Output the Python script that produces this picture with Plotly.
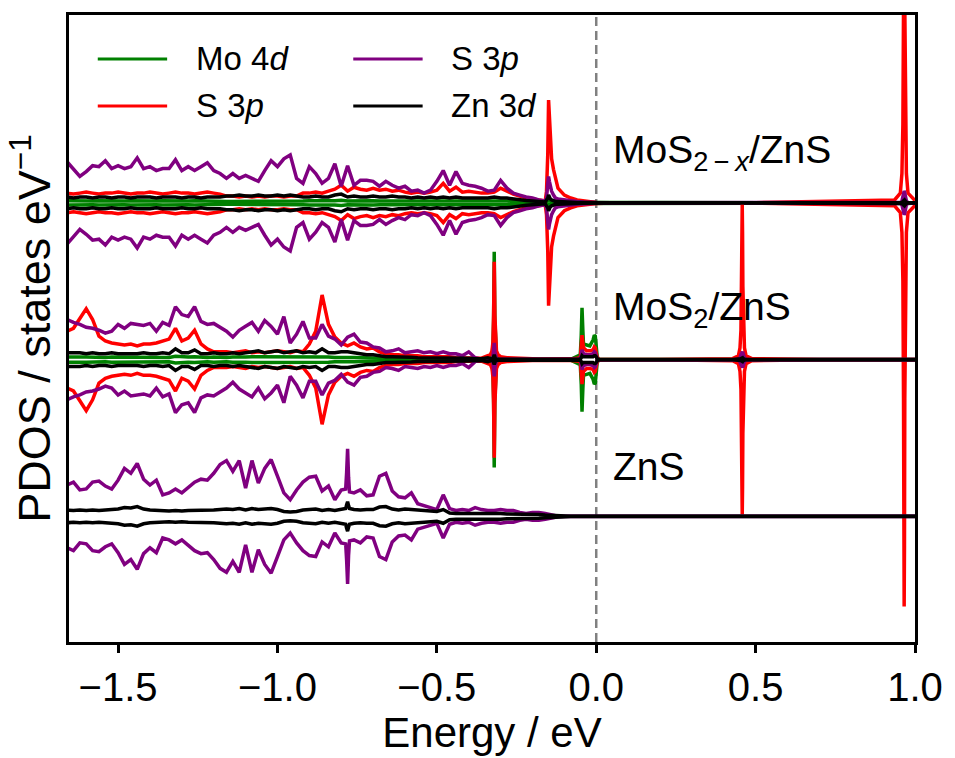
import numpy as np
import plotly.graph_objects as go

# ---------------------------------------------------------------------------
# Energy grid of the valence-band region (eV), shared by all three systems
# ---------------------------------------------------------------------------
E_GRID = np.round(np.arange(-1.66, 0.0001, 0.02), 3)   # 84 points

# ---------------------------------------------------------------------------
# MoS2-x/ZnS  (PDOS, states/eV; spin-up = +, spin-down = -)
# ---------------------------------------------------------------------------
TOP_MO4D = [0.22, 0.19, 0.22, 0.22, 0.19, 0.22, 0.19, 0.22, 0.22, 0.19,
            0.22, 0.19, 0.22, 0.22, 0.19, 0.22, 0.19, 0.22, 0.22, 0.19,
            0.22, 0.19, 0.19, 0.15, 0.15, 0.15, 0.15, 0.15, 0.11, 0.15,
            0.15, 0.11, 0.15, 0.15, 0.15, 0.15, 0.19, 0.19, 0.22, 0.19,
            0.19, 0.22, 0.22, 0.26, 0.19, 0.22, 0.19, 0.19, 0.22, 0.19,
            0.19, 0.22, 0.19, 0.19, 0.22, 0.19, 0.22, 0.22, 0.22, 0.26,
            0.22, 0.26, 0.22, 0.22, 0.22, 0.22, 0.19, 0.22, 0.22, 0.19,
            0.15, 0.11, 0.09, 0.08, 0.06, 0.05, 0.15, 0.06, 0.04, 0.03,
            0.02, 0.015, 0.01, 0.01]
TOP_S3P_MOS2 = [1.0, 0.9, 1.0, 1.1, 1.0, 0.9, 1.0, 1.0, 1.1, 1.0,
                0.9, 1.0, 1.0, 1.1, 1.0, 0.9, 1.0, 1.1, 1.0, 1.0,
                0.9, 1.0, 1.1, 1.0, 0.9, 0.7, 0.7, 0.6, 0.7, 0.6,
                0.7, 0.6, 0.7, 0.7, 0.6, 0.7, 0.7, 1.0, 1.0, 1.1,
                1.0, 1.2, 1.4, 1.8, 1.2, 1.6, 1.4, 1.3, 1.5, 1.3,
                1.4, 1.2, 1.3, 1.1, 1.0, 1.1, 1.0, 1.1, 1.3, 2.0,
                1.2, 1.6, 1.1, 1.2, 1.1, 1.0, 1.0, 1.1, 1.5, 1.2,
                0.9, 0.7, 0.5, 0.4, 0.3, 0.2, 4.5, 1.5, 0.8, 0.5,
                0.3, 0.2, 0.1, 0.05]
TOP_S3P_ZNS = [4.2, 3.5, 2.7, 3.2, 3.8, 3.7, 4.3, 3.5, 3.8, 3.5,
               3.7, 4.6, 3.5, 3.7, 3.3, 3.5, 3.5, 4.4, 3.3, 3.7,
               3.3, 3.7, 4.1, 3.3, 3.0, 2.5, 3.0, 2.5, 2.8, 2.5,
               2.2, 3.3, 4.3, 3.7, 4.5, 4.9, 2.5, 2.0, 3.7, 3.0,
               2.0, 2.5, 4.0, 1.7, 3.8, 1.8, 2.3, 2.3, 2.2, 1.7,
               2.2, 1.8, 1.5, 1.7, 1.2, 1.3, 1.0, 1.3, 2.2, 3.3,
               1.8, 3.2, 2.0, 1.8, 1.7, 1.5, 1.2, 1.3, 2.3, 1.5,
               1.0, 0.8, 0.6, 0.5, 0.3, 0.2, 1.2, 0.4, 0.3, 0.2,
               0.15, 0.1, 0.05, 0.03]
TOP_ZN3D = [0.6, 0.5, 0.6, 0.6, 0.5, 0.6, 0.6, 0.5, 0.6, 0.6,
            0.5, 0.6, 0.6, 0.6, 0.5, 0.6, 0.6, 0.6, 0.5, 0.6,
            0.6, 0.5, 0.6, 0.6, 0.6, 0.7, 0.7, 0.8, 0.7, 0.7,
            0.8, 0.7, 0.7, 0.8, 0.7, 0.8, 0.7, 0.6, 0.6, 0.7,
            0.6, 0.6, 0.8, 0.9, 0.6, 0.7, 0.6, 0.6, 0.7, 0.6,
            0.6, 0.7, 0.6, 0.6, 0.5, 0.6, 0.5, 0.6, 0.5, 0.6,
            0.5, 0.6, 0.5, 0.5, 0.5, 0.5, 0.5, 0.6, 0.5, 0.5,
            0.4, 0.3, 0.25, 0.2, 0.15, 0.1, 0.3, 0.15, 0.1, 0.07,
            0.05, 0.04, 0.03, 0.02]
# sharp states near -0.15 eV and the defect level at 0.966 eV
TOP_X_E = [-0.156, -0.152, -0.1495, -0.147, -0.144, -0.134, -0.128,
           0.05, 0.5, 0.936, 0.954, 0.959, 0.962, 0.964, 0.965, 0.966,
           0.967, 0.968, 0.970, 0.973, 0.978, 0.996, 1.0]
TOP_X_MO4D = [0.08, 0.19, 0.22, 0.19, 0.15, 0.08, 0.06,
              0.005, 0.005, 0.005, 0.01, 0.02, 0.04, 0.06, 0.08, 0.08,
              0.08, 0.06, 0.04, 0.02, 0.01, 0.005, 0.005]
TOP_X_S3P_MOS2 = [1.2, 5.0, 10.5, 9.0, 6.5, 3.4, 2.4,
                  0.02, 0.02, 0.3, 1.0, 3.0, 8.0, 20.0, 35.0, 41.2,
                  35.0, 20.0, 8.0, 3.0, 1.0, 0.3, 0.25]
TOP_X_S3P_ZNS = [0.5, 2.0, 2.7, 2.2, 1.5, 0.8, 0.5,
                 0.01, 0.01, 0.01, 0.05, 0.2, 0.6, 1.0, 1.15, 1.2,
                 1.15, 1.0, 0.6, 0.2, 0.05, 0.01, 0.01]
TOP_X_ZN3D = [0.3, 0.5, 0.8, 0.6, 0.4, 0.2, 0.15,
              0.01, 0.01, 0.01, 0.02, 0.05, 0.15, 0.25, 0.3, 0.3,
              0.3, 0.25, 0.15, 0.05, 0.02, 0.01, 0.01]

# ---------------------------------------------------------------------------
# MoS2/ZnS
# ---------------------------------------------------------------------------
MID_MO4D = [0.26, 0.22, 0.26, 0.26, 0.22, 0.26, 0.22, 0.26, 0.26, 0.22,
            0.26, 0.22, 0.26, 0.22, 0.26, 0.26, 0.22, 0.34, 0.26, 0.26,
            0.3, 0.22, 0.22, 0.26, 0.22, 0.22, 0.26, 0.22, 0.26, 0.3,
            0.3, 0.26, 0.3, 0.34, 0.26, 0.3, 0.34, 0.26, 0.3, 0.26,
            0.34, 0.26, 0.22, 0.26, 0.22, 0.22, 0.19, 0.19, 0.15, 0.15,
            0.11, 0.11, 0.09, 0.09, 0.08, 0.08, 0.08, 0.08, 0.06, 0.06,
            0.06, 0.05, 0.05, 0.05, 0.04, 0.04, 0.3, 11.0, 0.2, 0.04,
            0.03, 0.03, 0.03, 0.03, 0.03, 0.03, 0.03, 0.03, 0.03, 0.04,
            0.3, 1.6, 1.4, 1.2]
MID_S3P_MOS2 = [2.9, 3.2, 4.2, 5.2, 4.1, 2.4, 1.9, 1.7, 1.6, 1.5,
                1.6, 1.4, 1.6, 1.6, 1.7, 1.9, 2.1, 3.2, 1.9, 2.2,
                3.0, 1.6, 1.1, 0.8, 0.8, 0.8, 0.7, 0.8, 0.9, 0.7,
                0.8, 0.7, 0.8, 0.9, 0.8, 0.7, 0.9, 0.8, 1.6, 2.9,
                6.6, 3.6, 2.3, 1.7, 1.4, 1.7, 1.3, 1.1, 1.2, 0.8,
                0.6, 0.5, 0.5, 0.4, 0.4, 0.4, 0.3, 0.3, 0.3, 0.3,
                0.3, 0.2, 0.2, 0.2, 0.2, 0.15, 0.4, 10.0, 0.3, 0.2,
                0.15, 0.12, 0.1, 0.08, 0.06, 0.05, 0.05, 0.05, 0.06, 0.08,
                0.15, 1.2, 0.9, 0.6]
MID_S3P_ZNS = [4.1, 3.8, 3.6, 3.3, 3.2, 3.0, 2.7, 2.9, 3.6, 3.2,
               3.7, 3.6, 3.5, 3.7, 2.9, 3.8, 3.5, 5.4, 4.6, 4.4,
               5.4, 3.9, 3.6, 3.7, 3.3, 2.9, 2.3, 3.0, 3.4, 3.8,
               2.9, 4.0, 3.4, 2.6, 4.4, 1.7, 2.6, 3.9, 2.2, 2.2,
               3.6, 2.4, 2.1, 1.5, 2.3, 2.6, 1.8, 1.7, 1.3, 1.2,
               0.8, 0.9, 1.1, 0.7, 0.8, 0.9, 0.7, 0.8, 0.6, 0.8,
               0.6, 0.6, 0.4, 0.8, 0.2, 0.05, 0.05, 1.7, 0.05, 0.03,
               0.02, 0.02, 0.02, 0.02, 0.02, 0.02, 0.03, 0.03, 0.03, 0.03,
               0.05, 0.6, 0.5, 0.4]
MID_ZN3D = [0.7, 0.7, 0.7, 0.6, 0.7, 0.6, 0.6, 0.7, 0.6, 0.6,
            0.6, 0.6, 0.7, 0.6, 0.6, 0.7, 0.6, 1.1, 0.7, 0.7,
            1.0, 0.6, 0.6, 0.7, 0.6, 0.6, 0.7, 0.6, 0.7, 0.8,
            0.9, 0.7, 0.8, 0.9, 0.7, 0.8, 0.9, 0.7, 0.8, 0.7,
            1.1, 0.7, 0.7, 0.8, 0.8, 0.7, 0.6, 0.5, 0.5, 0.4,
            0.3, 0.3, 0.3, 0.25, 0.25, 0.2, 0.2, 0.2, 0.2, 0.2,
            0.2, 0.15, 0.15, 0.15, 0.1, 0.1, 0.2, 0.5, 0.1, 0.08,
            0.06, 0.05, 0.05, 0.04, 0.04, 0.04, 0.04, 0.04, 0.04, 0.05,
            0.1, 0.3, 0.3, 0.3]
# sharp states at -0.32 eV, just below E_F, and the gap state at 0.458 eV
MID_X_E = [-0.332, -0.327, -0.324, -0.322, -0.321, -0.319, -0.318, -0.316, -0.313, -0.308,
           -0.05, -0.047, -0.0446, -0.042, -0.03, -0.01, -0.006, -0.003, 0.003, 0.008,
           0.05, 0.2, 0.428, 0.446, 0.451, 0.454, 0.456, 0.457, 0.458, 0.459,
           0.460, 0.462, 0.465, 0.470, 0.488, 0.7, 1.0]
MID_X_MO4D = [0.2, 0.5, 1.4, 4.0, 7.5, 7.5, 4.0, 1.4, 0.5, 0.2,
              0.5, 2.5, 5.3, 3.0, 1.5, 2.0, 2.5, 2.4, 0.3, 0.05,
              0.01, 0.005, 0.005, 0.005, 0.005, 0.005, 0.005, 0.005, 0.005, 0.005,
              0.005, 0.005, 0.005, 0.005, 0.005, 0.005, 0.005]
MID_X_S3P_MOS2 = [0.5, 0.9, 1.8, 4.5, 7.5, 7.5, 4.5, 1.8, 0.9, 0.5,
                  0.2, 1.5, 2.5, 1.8, 0.9, 1.0, 1.3, 1.2, 0.2, 0.05,
                  0.02, 0.01, 0.1, 0.4, 1.2, 3.0, 7.5, 13.0, 15.8, 13.0,
                  7.5, 3.0, 1.2, 0.4, 0.1, 0.01, 0.01]
MID_X_S3P_ZNS = [0.05, 0.1, 0.3, 0.8, 1.4, 1.4, 0.8, 0.3, 0.1, 0.05,
                 0.05, 0.5, 1.0, 0.8, 0.5, 0.6, 0.8, 0.7, 0.1, 0.02,
                 0.01, 0.01, 0.0, 0.05, 0.2, 0.5, 0.7, 0.8, 0.8, 0.8,
                 0.7, 0.5, 0.2, 0.05, 0.0, 0.01, 0.01]
MID_X_ZN3D = [0.05, 0.05, 0.1, 0.2, 0.4, 0.4, 0.2, 0.1, 0.05, 0.05,
              0.05, 0.2, 0.4, 0.3, 0.3, 0.3, 0.4, 0.4, 0.1, 0.02,
              0.01, 0.01, 0.01, 0.02, 0.05, 0.1, 0.15, 0.2, 0.2, 0.2,
              0.15, 0.1, 0.05, 0.02, 0.01, 0.01, 0.01]

# ---------------------------------------------------------------------------
# ZnS
# ---------------------------------------------------------------------------
BOT_S3P_ZNS = [3.2, 3.5, 2.7, 2.8, 3.5, 3.6, 3.1, 2.8, 3.7, 4.9,
               4.4, 5.4, 3.8, 3.2, 3.7, 2.2, 2.4, 2.8, 2.4, 2.9,
               3.5, 3.8, 3.7, 4.4, 5.3, 5.7, 4.6, 5.7, 2.9, 5.7,
               3.4, 4.9, 5.8, 4.1, 2.4, 1.7, 2.7, 3.5, 4.0, 4.1,
               2.6, 3.1, 1.7, 2.7, 6.9, 2.4, 2.7, 2.1, 2.2, 4.1,
               4.4, 2.6, 2.0, 1.9, 2.4, 1.3, 1.1, 0.9, 0.7, 2.2,
               0.8, 0.6, 0.7, 0.6, 0.9, 0.7, 0.6, 0.6, 0.7, 0.6,
               0.6, 0.4, 0.3, 0.4, 0.4, 0.3, 0.15, 0.03, 0.01, 0.01,
               0.01, 0.01, 0.01, 0.01]
BOT_ZN3D = [0.65, 0.6, 0.65, 0.6, 0.65, 0.6, 0.65, 0.7, 0.75, 0.9,
            0.85, 1.0, 0.75, 0.65, 0.6, 0.6, 0.55, 0.6, 0.55, 0.6,
            0.6, 0.6, 0.6, 0.65, 0.7, 0.75, 0.7, 0.8, 0.65, 0.8,
            0.7, 0.75, 0.8, 0.7, 0.5, 0.45, 0.5, 0.65, 0.7, 0.75,
            0.6, 0.7, 0.6, 0.7, 1.5, 0.7, 0.65, 0.7, 0.7, 0.95,
            1.0, 0.75, 0.65, 0.75, 0.7, 0.6, 0.6, 0.55, 0.5, 0.7,
            0.35, 0.3, 0.3, 0.3, 0.35, 0.3, 0.3, 0.3, 0.3, 0.25,
            0.25, 0.2, 0.2, 0.2, 0.2, 0.15, 0.1, 0.03, 0.01, 0.01,
            0.01, 0.01, 0.01, 0.01]
BOT_X_E = [-0.786, -0.783, -0.777, -0.774, 0.5, 1.0]
BOT_X_S3P_ZNS = [2.8, 4.5, 4.0, 2.5, 0.005, 0.005]
BOT_X_ZN3D = [0.8, 1.2, 1.1, 0.8, 0.01, 0.01]

# ---------------------------------------------------------------------------
# Labels, colours, ticks
# ---------------------------------------------------------------------------
SYSTEM_LABELS = ["MoS<sub>2\u2009\u2212\u2009<i>x</i></sub>/ZnS", "MoS<sub>2</sub>/ZnS", "ZnS"]
SYSTEM_SHIFT = [32.0, 16.0, 0.0]          # vertical stacking offset of each system
ORBITAL_NAMES = ["Mo 4<i>d</i>", "S 3<i>p</i>", "S 3<i>p</i>", "Zn 3<i>d</i>"]
ORBITAL_COLORS = ["#008000", "#ff0000", "#800080", "#000000"]
X_TICKS = [-1.5, -1.0, -0.5, 0.0, 0.5, 1.0]
X_TICK_LABELS = ["\u22121.5", "\u22121.0", "\u22120.5", "0.0", "0.5", "1.0"]

FONT = "Liberation Sans, Arial, Helvetica, sans-serif"
LINE_W = 3.5


def merged(base, extra_e, extra_v):
    e = np.concatenate([E_GRID, np.asarray(extra_e, float)])
    v = np.concatenate([np.asarray(base, float), np.asarray(extra_v, float)])
    order = np.argsort(e, kind="stable")
    return e[order], v[order]


# per system: (orbital index, base values, extra energies, extra values)
systems = [
    [(0, TOP_MO4D, TOP_X_E, TOP_X_MO4D),
     (1, TOP_S3P_MOS2, TOP_X_E, TOP_X_S3P_MOS2),
     (2, TOP_S3P_ZNS, TOP_X_E, TOP_X_S3P_ZNS),
     (3, TOP_ZN3D, TOP_X_E, TOP_X_ZN3D)],
    [(0, MID_MO4D, MID_X_E, MID_X_MO4D),
     (1, MID_S3P_MOS2, MID_X_E, MID_X_S3P_MOS2),
     (2, MID_S3P_ZNS, MID_X_E, MID_X_S3P_ZNS),
     (3, MID_ZN3D, MID_X_E, MID_X_ZN3D)],
    [(2, BOT_S3P_ZNS, BOT_X_E, BOT_X_S3P_ZNS),
     (3, BOT_ZN3D, BOT_X_E, BOT_X_ZN3D)],
]

fig = go.Figure()

for s_idx, curves in enumerate(systems):
    shift = SYSTEM_SHIFT[s_idx]
    for orb, base, xe, xv in curves:
        e, v = merged(base, xe, xv)
        for sign in (1.0, -1.0):
            fig.add_trace(go.Scatter(
                x=e, y=shift + sign * v, mode="lines",
                line=dict(color=ORBITAL_COLORS[orb], width=LINE_W),
                hoverinfo="skip", showlegend=False))

# Fermi level
fig.add_shape(type="line", xref="x", yref="paper", x0=0, x1=0, y0=0, y1=1,
              line=dict(color="#808080", width=2.5, dash="9px,5px"), layer="below")

# system labels
for s_idx, label in enumerate(SYSTEM_LABELS):
    fig.add_annotation(x=0.047, y=SYSTEM_SHIFT[s_idx] + 5.1, xref="x", yref="y",
                       text=label, showarrow=False, xanchor="left", yanchor="middle",
                       font=dict(size=39, family=FONT, color="black"))

# legend (two columns)
legend_slots = [(0.034, 0.116, 0.148, 0.930), (0.034, 0.116, 0.148, 0.855),
                (0.336, 0.418, 0.4495, 0.930), (0.336, 0.418, 0.4495, 0.855)]
for orb, (xa, xb, xt, yy) in enumerate(legend_slots):
    fig.add_shape(type="line", xref="paper", yref="paper", x0=xa, x1=xb, y0=yy, y1=yy,
                  line=dict(color=ORBITAL_COLORS[orb], width=3))
    fig.add_annotation(x=xt, y=yy, xref="paper", yref="paper", text=ORBITAL_NAMES[orb],
                       showarrow=False, xanchor="left", yanchor="middle",
                       font=dict(size=33, family=FONT, color="black"))

fig.update_layout(
    width=955, height=758,
    margin=dict(l=69, r=34, t=15, b=108),
    plot_bgcolor="white", paper_bgcolor="white",
    showlegend=False,
    font=dict(family=FONT, color="black"),
)
fig.update_xaxes(
    range=[-1.654, 1.0], tickvals=X_TICKS, ticktext=X_TICK_LABELS,
    ticks="outside", ticklen=8, tickwidth=2.5, tickcolor="black",
    tickfont=dict(size=40, family=FONT, color="black"),
    showline=True, linewidth=2.5, linecolor="black", mirror=True,
    showgrid=False, zeroline=False,
    title=dict(text="Energy / eV", font=dict(size=42, family=FONT, color="black"), standoff=8),
)
fig.update_yaxes(
    range=[-12.82, 51.18], showticklabels=False, ticks="",
    showline=True, linewidth=2.5, linecolor="black", mirror=True,
    showgrid=False, zeroline=False,
    title=dict(text="PDOS / states eV<sup>\u22121</sup>",
               font=dict(size=45, family=FONT, color="black"), standoff=2),
)

fig.write_html("out.html")
